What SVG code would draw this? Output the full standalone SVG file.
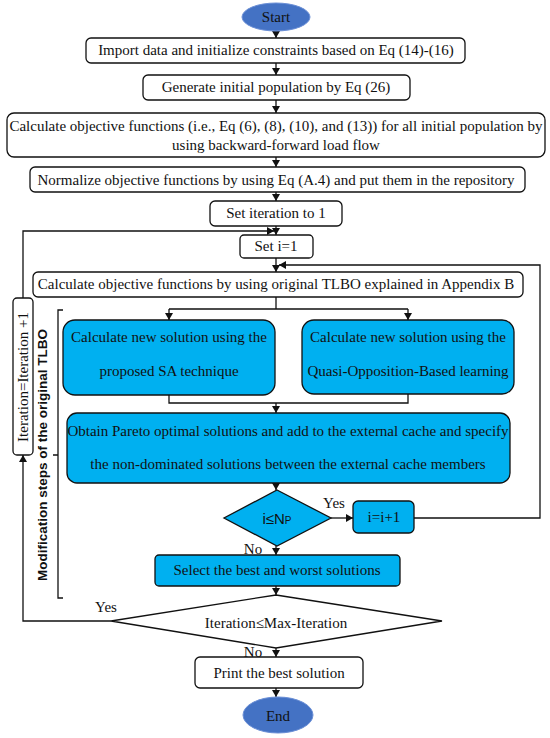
<svg xmlns="http://www.w3.org/2000/svg" width="550" height="738" viewBox="0 0 550 738">
<defs>
<marker id="ah" markerUnits="userSpaceOnUse" markerWidth="8" markerHeight="8" refX="7" refY="4" orient="auto">
<path d="M0,0 L7,4 L0,8 z" fill="#111"/>
</marker>
<style>
.t{font-family:"Liberation Serif","Times New Roman",serif;font-size:15px;fill:#111;text-anchor:middle;dominant-baseline:central}
.s{font-family:"Liberation Sans",Arial,sans-serif;fill:#111}
.w{fill:#fff;stroke:#111;stroke-width:1.3}
.b{fill:#00B0F0;stroke:#111;stroke-width:1.3}
.e{fill:#4472C4;stroke:#6b8fd6;stroke-width:1}
.c{fill:none;stroke:#111;stroke-width:1.3}
.a{marker-end:url(#ah)}
</style>
</defs>
<rect width="550" height="738" fill="#fff"/>
<g id="connectors">
<path class="c a" d="M276,31 V38"/>
<path class="c a" d="M276,63 V75"/>
<path class="c a" d="M276,100 V113"/>
<path class="c a" d="M276,157 V167"/>
<path class="c a" d="M276,192 V201"/>
<path class="c a" d="M276,226 V235"/>
<path class="c a" d="M276,258 V272"/>
<path class="c" d="M276,297 V309 M169,309 H408"/>
<path class="c a" d="M169,309 V320"/>
<path class="c a" d="M408,309 V320"/>
<path class="c" d="M169,395 V403 H408 V394"/>
<path class="c a" d="M276,403 V413"/>
<path class="c a" d="M276,483 V490"/>
<path class="c a" d="M331,518 H353"/>
<path class="c a" d="M414,518 H540 V265 H279"/>
<path class="c a" d="M276,546 V555"/>
<path class="c a" d="M276,586 V595"/>
<path class="c a" d="M111,621 H23 V455"/>
<path class="c a" d="M23,298 V231 H274"/>
<path class="c a" d="M276,648 V657"/>
<path class="c a" d="M276,688 V697"/>
<path class="c" d="M63,310 H58 V598 H63 M53,455 H58"/>
</g>
<g id="start"><ellipse class="e" cx="276" cy="17" rx="34" ry="14"/><text class="t" x="276" y="17">Start</text></g>
<g id="import"><rect class="w" x="86" y="38" width="379" height="25" rx="5"/><text class="t" x="276" y="50">Import data and initialize constraints based on Eq (14)-(16)</text></g>
<g id="generate"><rect class="w" x="143" y="75" width="267" height="25" rx="5"/><text class="t" x="276" y="87">Generate initial population by Eq (26)</text></g>
<g id="calcobj"><rect class="w" x="7" y="113" width="538" height="44" rx="7"/><text class="t" x="276" y="126">Calculate objective functions (i.e., Eq (6), (8), (10), and (13)) for all initial population by</text><text class="t" x="276" y="145">using backward-forward load flow</text></g>
<g id="normalize"><rect class="w" x="30" y="167" width="495" height="25" rx="5"/><text class="t" x="276" y="180">Normalize objective functions by using Eq (A.4) and put them in the repository</text></g>
<g id="setiter"><rect class="w" x="210" y="201" width="132" height="25" rx="5"/><text class="t" x="276" y="213">Set iteration to 1</text></g>
<g id="seti"><rect class="w" x="240" y="235" width="73" height="23" rx="4"/><text class="t" x="276" y="246">Set i=1</text></g>
<g id="tlbo"><rect class="w" x="33" y="272" width="490" height="25" rx="5"/><text class="t" x="276" y="284">Calculate objective functions by using original TLBO explained in Appendix B</text></g>
<g id="sa"><rect class="b" x="63" y="320" width="212" height="75" rx="12"/><text class="t" x="169" y="337">Calculate new solution using the</text><text class="t" x="169" y="371">proposed SA technique</text></g>
<g id="qobl"><rect class="b" x="302" y="320" width="212" height="74" rx="12"/><text class="t" x="408" y="337">Calculate new solution using the</text><text class="t" x="408" y="371">Quasi-Opposition-Based learning</text></g>
<g id="pareto"><rect class="b" x="67" y="413" width="443" height="70" rx="10"/><text class="t" x="288" y="431">Obtain Pareto optimal solutions and add to the external cache and specify</text><text class="t" x="288" y="464">the non-dominated solutions between the external cache members</text></g>
<g id="cond1"><polygon class="b" points="277,490 331,518 277,546 224,518"/><text class="s" x="277" y="518" font-size="15" text-anchor="middle" dominant-baseline="central">i≤N<tspan font-size="10" dy="2">P</tspan></text></g>
<g id="inc"><rect class="b" x="353" y="501" width="61" height="32" rx="5"/><text class="t" x="384" y="517">i=i+1</text></g>
<text class="t" x="334" y="503">Yes</text>
<text class="t" x="253" y="549">No</text>
<g id="select"><rect class="b" x="155" y="555" width="245" height="31" rx="4"/><text class="t" x="277" y="570">Select the best and worst solutions</text></g>
<g id="cond2"><polygon class="w" points="276,595 442,621 276,648 111,621"/><text class="t" x="276" y="623">Iteration≤Max-Iteration</text></g>
<text class="t" x="106" y="607">Yes</text>
<text class="t" x="253" y="652">No</text>
<g id="print"><rect class="w" x="195" y="657" width="168" height="31" rx="5"/><text class="t" x="279" y="673">Print the best solution</text></g>
<g id="end"><ellipse class="e" cx="278" cy="715" rx="35" ry="18"/><text class="t" x="278" y="716">End</text></g>
<g id="iterinc"><rect class="w" x="13" y="298" width="20" height="157" rx="4"/><text class="t" transform="translate(23,377) rotate(-90)" x="0" y="0" font-size="16">Iteration=Iteration +1</text></g>
<g id="modlabel"><text class="s" transform="translate(42,455) rotate(-90)" x="0" y="0" font-size="13.5" font-weight="bold" text-anchor="middle" dominant-baseline="central">Modification steps of the original TLBO</text></g>
</svg>
